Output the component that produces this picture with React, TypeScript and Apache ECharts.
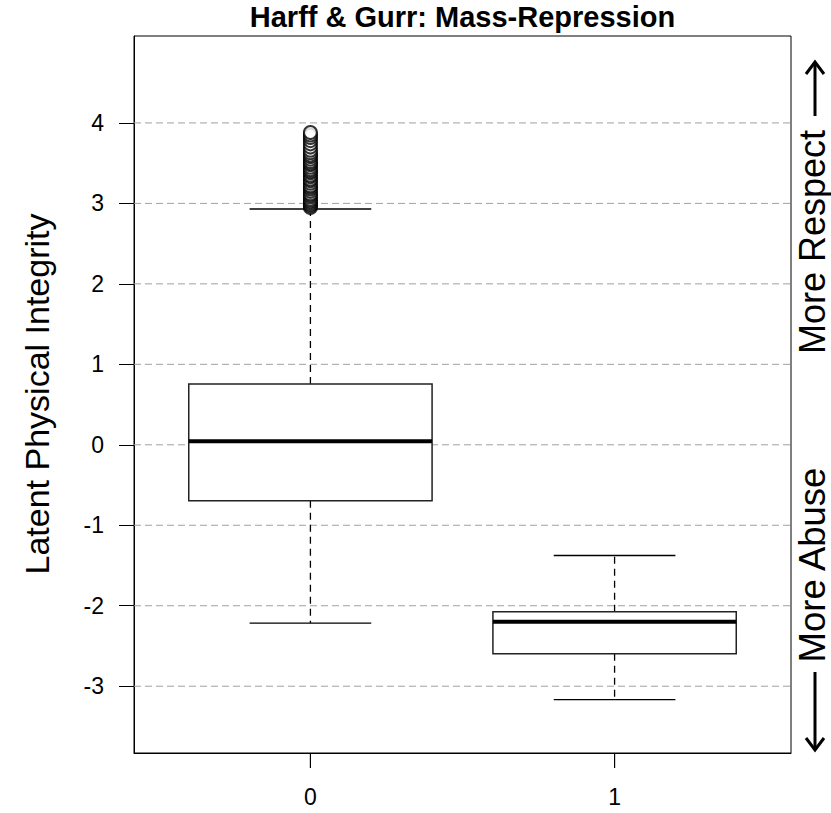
import React, { useEffect, useRef } from "react";
import * as echarts from "echarts";

// Group labels and their positions on the numeric x scale
const categories = ["0", "1"];
const positions = [1, 2];

// Five-number summaries per group
const whiskerLow = [-2.215, -3.166];
const q1 = [-0.695, -2.598];
const median = [0.044, -2.199];
const q3 = [0.755, -2.074];
const whiskerHigh = [2.93, -1.376];

// Outlying points above the upper whisker of group "0"
const outliers0 = [
  2.95, 2.97, 2.99, 3.01, 3.03, 3.05, 3.08, 3.1, 3.12, 3.15, 3.18, 3.2, 3.22,
  3.25, 3.28, 3.3, 3.33, 3.35, 3.38, 3.4, 3.42, 3.45, 3.48, 3.5, 3.52, 3.55,
  3.58, 3.6, 3.63, 3.66, 3.7, 3.74, 3.78, 3.82, 3.85, 3.88,
];

const yTicks = [-3, -2, -1, 0, 1, 2, 3, 4];

const Y_MIN = -3.83;
const Y_MAX = 5.08;

const FONT = "'Liberation Sans', Arial, Helvetica, sans-serif";

export default function App() {
  const ref = useRef<HTMLDivElement>(null);

  useEffect(() => {
    document.body.style.margin = "0";
    if (!ref.current) return;
    const chart = echarts.init(ref.current, undefined, { renderer: "svg" });

    const boxData = positions.map((p, i) => [
      p,
      whiskerLow[i],
      q1[i],
      median[i],
      q3[i],
      whiskerHigh[i],
    ]);

    const option: any = {
      animation: false,
      backgroundColor: "#ffffff",
      grid: {
        left: 134,
        top: 36,
        right: 40,
        bottom: 60,
        show: true,
        borderColor: "#000",
        borderWidth: 1,
        backgroundColor: "transparent",
      },
      xAxis: {
        type: "value",
        position: "bottom",
        min: 0.42,
        max: 2.58,
        axisLine: { show: true, onZero: false, lineStyle: { color: "#000", width: 1 } },
        splitLine: { show: false },
        axisTick: { show: false },
        axisLabel: {
          customValues: positions,
          formatter: (v: number) => categories[positions.indexOf(v)] ?? "",
          color: "#000",
          fontSize: 23,
          fontFamily: FONT,
          margin: 32,
        },
      },
      yAxis: {
        type: "value",
        position: "left",
        min: Y_MIN,
        max: Y_MAX,
        axisLine: { show: true, onZero: false, lineStyle: { color: "#000", width: 1 } },
        splitLine: { show: false },
        axisTick: {
          show: true,
          customValues: yTicks,
          length: 15,
          lineStyle: { color: "#000", width: 1 },
        },
        axisLabel: {
          customValues: yTicks,
          color: "#000",
          fontSize: 23,
          fontFamily: FONT,
          margin: 30,
        },
      },
      graphic: [
        {
          type: "text",
          x: 462.5,
          y: 17,
          style: {
            text: "Harff & Gurr: Mass-Repression",
            fontSize: 29,
            fontWeight: "bold",
            fontFamily: FONT,
            fill: "#000",
            align: "center",
            verticalAlign: "middle",
          },
        },
        {
          type: "text",
          x: 37,
          y: 394,
          rotation: Math.PI / 2,
          style: {
            text: "Latent Physical Integrity",
            fontSize: 34,
            fontFamily: FONT,
            fill: "#000",
            align: "center",
            verticalAlign: "middle",
          },
        },
        {
          type: "text",
          x: 812,
          y: 242,
          rotation: Math.PI / 2,
          style: {
            text: "More Respect",
            fontSize: 36,
            fontFamily: FONT,
            fill: "#000",
            align: "center",
            verticalAlign: "middle",
          },
        },
        {
          type: "text",
          x: 812,
          y: 565,
          rotation: Math.PI / 2,
          style: {
            text: "More Abuse",
            fontSize: 36.5,
            fontFamily: FONT,
            fill: "#000",
            align: "center",
            verticalAlign: "middle",
          },
        },
        // upward arrow
        {
          type: "line",
          shape: { x1: 815, y1: 116, x2: 815, y2: 62 },
          style: { stroke: "#000", lineWidth: 3 },
        },
        {
          type: "polyline",
          shape: { points: [[806, 74], [815, 62], [824, 74]] },
          style: { stroke: "#000", lineWidth: 3, fill: "none" },
        },
        // downward arrow
        {
          type: "line",
          shape: { x1: 815, y1: 672, x2: 815, y2: 750 },
          style: { stroke: "#000", lineWidth: 3 },
        },
        {
          type: "polyline",
          shape: { points: [[806, 738], [815, 750], [824, 738]] },
          style: { stroke: "#000", lineWidth: 3, fill: "none" },
        },
      ],
      series: [
        {
          // dashed horizontal reference lines at each y tick
          type: "custom",
          z: 1,
          silent: true,
          data: yTicks.map((v) => [1, v]),
          encode: { x: 0, y: 1 },
          renderItem: (params: any, api: any) => {
            const y = api.coord([1, api.value(1)])[1];
            const cs = params.coordSys;
            return {
              type: "line",
              shape: { x1: cs.x, y1: y, x2: cs.x + cs.width, y2: y },
              style: { stroke: "#a0a0a0", lineWidth: 1, lineDash: [7, 4] },
            };
          },
        },
        {
          // tick marks below the frame, one per group
          type: "custom",
          z: 5,
          silent: true,
          clip: false,
          data: positions.map((p) => [p, Y_MIN]),
          encode: { x: 0, y: 1 },
          renderItem: (_params: any, api: any) => {
            const pt = api.coord([api.value(0), api.value(1)]);
            return {
              type: "line",
              shape: { x1: pt[0], y1: pt[1], x2: pt[0], y2: pt[1] + 15 },
              style: { stroke: "#000", lineWidth: 1.2 },
            };
          },
        },
        {
          type: "custom",
          z: 3,
          silent: true,
          data: boxData,
          encode: { x: 0, y: [1, 2, 3, 4, 5] },
          renderItem: (_params: any, api: any) => {
            const x = api.value(0);
            const lo = api.value(1);
            const b1 = api.value(2);
            const md = api.value(3);
            const b3 = api.value(4);
            const hi = api.value(5);
            const c = (xx: number, yy: number) => api.coord([xx, yy]);
            const boxL = c(x - 0.4, b3);
            const boxR = c(x + 0.4, b1);
            const center = c(x, md)[0];
            const capL = c(x - 0.2, hi)[0];
            const capR = c(x + 0.2, hi)[0];
            const yHi = c(x, hi)[1];
            const yLo = c(x, lo)[1];
            const yMd = c(x, md)[1];
            const dash = { stroke: "#000", lineWidth: 1.3, lineDash: [7, 5] };
            const solid = { stroke: "#000", lineWidth: 1.3 };
            return {
              type: "group",
              children: [
                {
                  type: "line",
                  shape: { x1: center, y1: boxL[1], x2: center, y2: yHi },
                  style: dash,
                },
                {
                  type: "line",
                  shape: { x1: center, y1: boxR[1], x2: center, y2: yLo },
                  style: dash,
                },
                {
                  type: "line",
                  shape: { x1: capL, y1: yHi, x2: capR, y2: yHi },
                  style: solid,
                },
                {
                  type: "line",
                  shape: { x1: capL, y1: yLo, x2: capR, y2: yLo },
                  style: solid,
                },
                {
                  type: "rect",
                  shape: {
                    x: boxL[0],
                    y: boxL[1],
                    width: boxR[0] - boxL[0],
                    height: boxR[1] - boxL[1],
                  },
                  style: { fill: "#fff", stroke: "#222", lineWidth: 1.5 },
                },
                {
                  type: "line",
                  shape: { x1: boxL[0], y1: yMd, x2: boxR[0], y2: yMd },
                  style: { stroke: "#000", lineWidth: 4 },
                },
              ],
            };
          },
        },
        {
          type: "scatter",
          z: 4,
          silent: true,
          symbol: "emptyCircle",
          symbolSize: 13,
          itemStyle: { color: "#000", borderColor: "#000", borderWidth: 1.1 },
          data: outliers0.map((v) => [positions[0], v]),
        },
      ],
    };

    chart.setOption(option);
    return () => chart.dispose();
  }, []);

  return <div ref={ref} style={{ width: 831, height: 813 }} />;
}
